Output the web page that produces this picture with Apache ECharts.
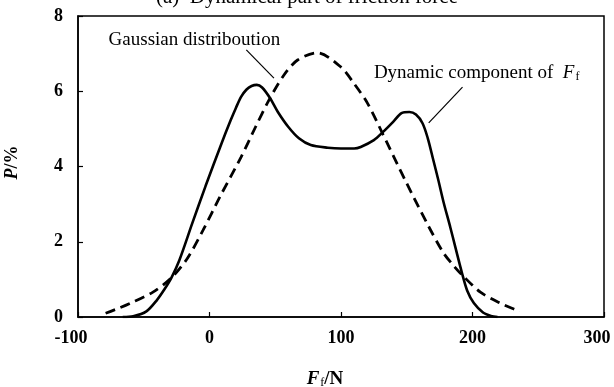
<!DOCTYPE html>
<html>
<head>
<meta charset="utf-8">
<script src="https://cdn.jsdelivr.net/npm/echarts@6/dist/echarts.min.js"></script>
<style>
  html, body { margin: 0; padding: 0; background: #fff; }
  #chart { width: 614px; height: 387px; }
</style>
</head>
<body>
<div id="chart"></div>
<script>
// Friction force Ff (N) and probability P (%)
const dynamicX = [-66, -58, -48, -40, -34, -29, -23, -13, -3, 9, 16, 20, 24, 28, 32, 36, 40, 46, 52, 60, 68, 77, 90, 100, 110, 115, 125, 132, 140, 146, 152, 157, 162, 166, 170, 174, 178, 183, 187, 192, 196, 201, 208, 214, 219];
const dynamicY = [0, 0.02, 0.15, 0.45, 0.75, 1.04, 1.5, 2.5, 3.48, 4.6, 5.22, 5.55, 5.85, 6.04, 6.14, 6.17, 6.1, 5.82, 5.45, 5.05, 4.75, 4.57, 4.5, 4.48, 4.48, 4.52, 4.7, 4.92, 5.2, 5.42, 5.45, 5.38, 5.15, 4.75, 4.2, 3.64, 3.05, 2.4, 1.85, 1.17, 0.7, 0.37, 0.12, 0.03, 0];

const gaussX = [-79, -70, -60, -43, -29, -17, -5, 8, 24, 35, 45, 56, 67, 82, 100, 110, 120, 132, 143, 149, 166, 178, 186, 192, 206, 221, 233, 236];
const gaussY = [0.10, 0.22, 0.37, 0.66, 1.04, 1.55, 2.3, 3.2, 4.25, 5.05, 5.75, 6.4, 6.83, 7.02, 6.64, 6.2, 5.69, 4.85, 4.05, 3.62, 2.45, 1.7, 1.35, 1.12, 0.66, 0.37, 0.19, 0.15];

const xTicks = { min: -100, max: 300, interval: 100 };
const yTicks = { min: 0, max: 8, interval: 2 };

const titleText = '(a)  Dynamical part of friction force';
const gaussLabel = 'Gaussian distriboution';
const dynamicLabel = 'Dynamic component of ';

// annotation anchors in data space: text position, leader start, leader end
const gaussNote = { text: [-11.5, 7.36], from: [28, 7.10], to: [49, 6.35] };
const dynamicNote = { text: [125, 6.49], from: [192.4, 6.11], to: [166.7, 5.16] };

const serif = "'Liberation Serif', 'Times New Roman', serif";

function pairs(xs, ys) { return xs.map((x, i) => [x, ys[i]]); }

const chart = echarts.init(document.getElementById('chart'), null, { renderer: 'canvas' });

chart.setOption({
  animation: false,
  backgroundColor: '#fff',
  grid: {
    left: 78, right: 10, top: 16, bottom: 70,
    containLabel: false, outerBoundsMode: 'none',
    show: true, borderColor: '#000', borderWidth: 1.5, backgroundColor: 'transparent'
  },
  xAxis: {
    type: 'value',
    min: xTicks.min, max: xTicks.max, interval: xTicks.interval,
    axisLine: { show: true, onZero: false, lineStyle: { color: '#000', width: 1.5 } },
    axisTick: { show: true, inside: true, length: 5, lineStyle: { color: '#000', width: 1.2 } },
    splitLine: { show: false },
    axisLabel: {
      color: '#000', fontFamily: serif, fontSize: 18, fontWeight: 'bold', margin: 12,
      // end labels sit slightly inward from their ticks
      formatter: v => (v === xTicks.min || v === xTicks.max) ? '{e|' + v + '}' : String(v),
      rich: { e: { fontFamily: serif, fontSize: 18, fontWeight: 'bold', color: '#000', padding: [0, 14, 0, 0] } }
    },
    name: '{i|F}{s|f}{n|/N}',
    nameLocation: 'middle',
    nameGap: 52,
    nameTextStyle: {
      padding: [0, 32, 0, 0],
      rich: {
        i: { fontFamily: serif, fontSize: 19, fontStyle: 'italic', fontWeight: 'bold', color: '#000' },
        s: { fontFamily: serif, fontSize: 12, color: '#000', verticalAlign: 'bottom', padding: [8, 0, 0, 1] },
        n: { fontFamily: serif, fontSize: 19, fontWeight: 'bold', color: '#000' }
      }
    }
  },
  yAxis: {
    type: 'value',
    min: yTicks.min, max: yTicks.max, interval: yTicks.interval,
    axisLine: { show: true, onZero: false, lineStyle: { color: '#000', width: 1.5 } },
    axisTick: { show: true, inside: true, length: 5, lineStyle: { color: '#000', width: 1.2 } },
    splitLine: { show: false },
    axisLabel: { color: '#000', fontFamily: serif, fontSize: 18, fontWeight: 'bold', margin: 15 },
    name: '{i|P}{n|/%}',
    nameLocation: 'middle',
    nameGap: 57,
    nameRotate: 90,
    nameTextStyle: {
      padding: [0, 0, 0, 8],
      rich: {
        i: { fontFamily: serif, fontSize: 18, fontStyle: 'italic', fontWeight: 'bold', color: '#000' },
        n: { fontFamily: serif, fontSize: 18, fontWeight: 'bold', color: '#000' }
      }
    }
  },
  series: [
    {
      name: 'Gaussian distribution',
      type: 'line',
      data: pairs(gaussX, gaussY),
      smooth: 0.3,
      showSymbol: false,
      lineStyle: { color: '#000', width: 2.8, type: [10, 6] }
    },
    {
      name: 'Dynamic component',
      type: 'line',
      data: pairs(dynamicX, dynamicY),
      smooth: 0.3,
      showSymbol: false,
      lineStyle: { color: '#000', width: 2.6 }
    }
  ]
});

// Annotations positioned through the axes
const px = p => chart.convertToPixel({ gridIndex: 0 }, p);
const gT = px(gaussNote.text), gA = px(gaussNote.from), gB = px(gaussNote.to);
const dT = px(dynamicNote.text), dA = px(dynamicNote.from), dB = px(dynamicNote.to);

chart.setOption({
  graphic: [
    {
      type: 'text', left: 'center', top: -13,
      style: { text: titleText, font: '21px ' + serif, fill: '#000' }
    },
    {
      type: 'text', x: gT[0], y: gT[1],
      style: { text: gaussLabel, font: '19px ' + serif, fill: '#000', align: 'center', verticalAlign: 'middle' }
    },
    {
      type: 'line', shape: { x1: gA[0], y1: gA[1], x2: gB[0], y2: gB[1] },
      style: { stroke: '#000', lineWidth: 1.2 }
    },
    {
      type: 'text', x: dT[0], y: dT[1],
      style: {
        text: dynamicLabel + ' {i|F}{s|f}',
        font: '19px ' + serif, fill: '#000', align: 'left', verticalAlign: 'middle',
        rich: {
          i: { font: 'italic 19px ' + serif, fill: '#000' },
          s: { font: '12px ' + serif, fill: '#000', verticalAlign: 'bottom', padding: [8, 0, 0, 1] }
        }
      }
    },
    {
      type: 'line', shape: { x1: dA[0], y1: dA[1], x2: dB[0], y2: dB[1] },
      style: { stroke: '#000', lineWidth: 1.2 }
    }
  ]
});
</script>
</body>
</html>
